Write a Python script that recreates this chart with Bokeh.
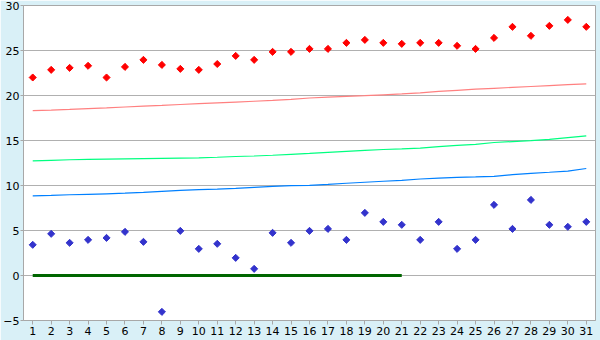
import math
from bokeh.plotting import figure
from bokeh.models import FixedTicker, Range1d
from bokeh.embed import file_html
from bokeh.resources import INLINE

days = list(range(1, 32))

red_points = [22.0, 22.85, 23.07, 23.3, 22.0, 23.18, 23.96, 23.4, 22.96, 22.85,
              23.5, 24.4, 23.96, 24.85, 24.85, 25.18, 25.18, 25.85, 26.18, 25.85,
              25.74, 25.85, 25.85, 25.52, 25.18, 26.4, 27.63, 26.63, 27.74, 28.4, 27.63]

blue_points = [3.41, 4.63, 3.63, 3.96, 4.18, 4.85, 3.74, -4.04, 4.96, 2.96,
               3.52, 1.96, 0.74, 4.74, 3.63, 4.96, 5.18, 3.96, 6.96, 5.96,
               5.63, 3.96, 5.96, 2.96, 3.96, 7.85, 5.18, 8.4, 5.63, 5.41, 5.96]

pink_trend = [18.33, 18.38, 18.45, 18.55, 18.63, 18.72, 18.81, 18.9, 19.0, 19.1,
              19.18, 19.27, 19.36, 19.45, 19.57, 19.72, 19.82, 19.9, 19.98, 20.08,
              20.18, 20.3, 20.45, 20.58, 20.7, 20.8, 20.9, 21.0, 21.1, 21.2, 21.3]

green_trend = [12.74, 12.8, 12.86, 12.9, 12.93, 12.96, 12.99, 13.02, 13.05, 13.08,
               13.14, 13.22, 13.28, 13.36, 13.46, 13.56, 13.68, 13.8, 13.91, 14.0,
               14.06, 14.15, 14.33, 14.46, 14.58, 14.78, 14.88, 14.98, 15.12, 15.33, 15.52]

blue_trend = [8.85, 8.9, 8.97, 9.02, 9.08, 9.15, 9.24, 9.35, 9.46, 9.54,
              9.6, 9.68, 9.79, 9.9, 9.98, 10.02, 10.13, 10.25, 10.36, 10.47,
              10.58, 10.72, 10.82, 10.9, 10.95, 11.02, 11.2, 11.35, 11.47, 11.6, 11.89]

zero_days = list(range(1, 22))
zero_line = [0] * 21

y_ticks = [-5, 0, 5, 10, 15, 20, 25, 30]

p = figure(width=600, height=340, output_backend="svg", toolbar_location=None,
           x_range=Range1d(0.5, 31.5), y_range=Range1d(-5, 30),
           min_border_left=0, min_border_right=5, min_border_top=5, min_border_bottom=20)

p.background_fill_color = "white"
p.border_fill_color = "#D9F0F7"
p.outline_line_color = "#A8A8A8"
p.outline_line_width = 1

p.xgrid.grid_line_color = None
p.ygrid.grid_line_color = "#B0B0B0"
p.ygrid.grid_line_width = 1
p.ygrid.ticker = FixedTicker(ticks=y_ticks)

for ax in (p.xaxis[0], p.yaxis[0]):
    ax.axis_line_color = "#A8A8A8"
    ax.major_tick_line_color = "#A8A8A8"
    ax.major_tick_in = 0
    ax.minor_tick_line_color = None
    ax.major_label_text_font = "DejaVu Sans"
    ax.major_label_text_font_size = "11px"
    ax.major_label_text_color = "black"

p.xaxis.major_tick_out = 4
p.xaxis.major_label_standoff = 2
p.yaxis.major_tick_out = 3
p.yaxis.major_label_standoff = 1

p.xaxis.ticker = FixedTicker(ticks=days)
p.yaxis.ticker = FixedTicker(ticks=y_ticks)

p.line(days, pink_trend, line_color="#FF8080", line_width=1.2)
p.line(days, green_trend, line_color="#00FF80", line_width=1.2)
p.line(days, blue_trend, line_color="#0080FF", line_width=1.2)
p.line(zero_days, zero_line, line_color="#006600", line_width=3)

p.scatter(days, red_points, marker="square", size=5, angle=math.pi / 4,
          fill_color="#FF0000", line_color="#FF0000", line_width=1)
p.scatter(days, blue_points, marker="square", size=5, angle=math.pi / 4,
          fill_color="#3333CC", line_color="#3333CC", line_width=1)

open("out.html", "w").write(file_html(p, INLINE))
